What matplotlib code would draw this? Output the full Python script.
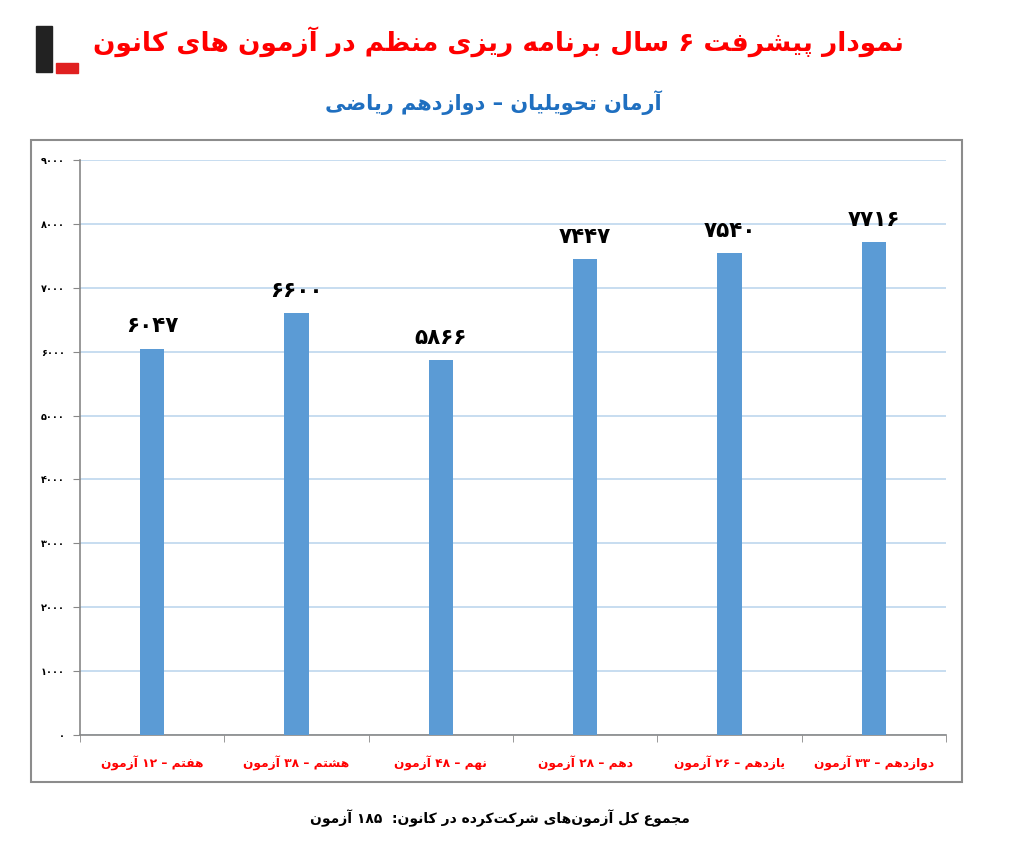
import matplotlib
matplotlib.use("Agg")
import matplotlib.pyplot as plt
from matplotlib.patches import Rectangle

# data
categories = ["هفتم – ۱۲ آزمون", "هشتم – ۳۸ آزمون", "نهم – ۴۸ آزمون",
              "دهم – ۲۸ آزمون", "یازدهم – ۲۶ آزمون", "دوازدهم – ۳۳ آزمون"]
scores = [6047, 6600, 5866, 7447, 7540, 7716]
yticks = [0, 1000, 2000, 3000, 4000, 5000, 6000, 7000, 8000, 9000]

title = "نمودار پیشرفت ۶ سال برنامه ریزی منظم در آزمون های کانون"
subtitle = "آرمان تحویلیان – دوازدهم ریاضی"
footer = "مجموع کل آزمون\u200cهای شرکت\u200cکرده در کانون:  ۱۸۵ آزمون"

# poor man's arabic shaping (matplotlib does no shaping / bidi)
# letter: (isolated, final, initial, medial)
FORMS = {
    "ا": (0xFE8D, 0xFE8E, None, None), "آ": (0xFE81, 0xFE82, None, None),
    "ب": (0xFE8F, 0xFE90, 0xFE91, 0xFE92), "پ": (0xFB56, 0xFB57, 0xFB58, 0xFB59),
    "ت": (0xFE95, 0xFE96, 0xFE97, 0xFE98), "ج": (0xFE9D, 0xFE9E, 0xFE9F, 0xFEA0),
    "ح": (0xFEA1, 0xFEA2, 0xFEA3, 0xFEA4), "د": (0xFEA9, 0xFEAA, None, None),
    "ر": (0xFEAD, 0xFEAE, None, None), "ز": (0xFEAF, 0xFEB0, None, None),
    "س": (0xFEB1, 0xFEB2, 0xFEB3, 0xFEB4), "ش": (0xFEB5, 0xFEB6, 0xFEB7, 0xFEB8),
    "ض": (0xFEBD, 0xFEBE, 0xFEBF, 0xFEC0), "ظ": (0xFEC5, 0xFEC6, 0xFEC7, 0xFEC8),
    "ع": (0xFEC9, 0xFECA, 0xFECB, 0xFECC), "ف": (0xFED1, 0xFED2, 0xFED3, 0xFED4),
    "ک": (0xFB8E, 0xFB8F, 0xFB90, 0xFB91), "گ": (0xFB92, 0xFB93, 0xFB94, 0xFB95),
    "ل": (0xFEDD, 0xFEDE, 0xFEDF, 0xFEE0), "م": (0xFEE1, 0xFEE2, 0xFEE3, 0xFEE4),
    "ن": (0xFEE5, 0xFEE6, 0xFEE7, 0xFEE8), "و": (0xFEED, 0xFEEE, None, None),
    "ه": (0xFEE9, 0xFEEA, 0xFEEB, 0xFEEC), "ی": (0xFBFC, 0xFBFD, 0xFBFE, 0xFBFF),
}
DIGITS = "0123456789۰۱۲۳۴۵۶۷۸۹"


def fa(s):
    out = []
    for i, c in enumerate(s):
        if c not in FORMS:
            if c != "\u200c":
                out.append(c)
            continue
        iso, fin, ini, med = FORMS[c]
        p = s[i - 1] if i > 0 else ""
        n = s[i + 1] if i + 1 < len(s) else ""
        jp = p in FORMS and FORMS[p][2] is not None
        jn = n in FORMS and ini is not None
        if jp and jn:
            g = med
        elif jp:
            g = fin
        elif jn:
            g = ini
        else:
            g = iso
        out.append(chr(g))
    # visual order: reverse, but keep number runs left to right
    runs = []
    for c in out:
        if runs and c in DIGITS and runs[-1][0] in DIGITS:
            runs[-1] += c
        else:
            runs.append(c)
    return "".join(reversed(runs))


def fa_num(v):
    return str(v).translate(str.maketrans("0123456789", "۰۱۲۳۴۵۶۷۸۹"))


plt.rcParams["font.family"] = ["DejaVu Sans"]

fig = plt.figure(figsize=(10.14, 8.56), dpi=100)
ax = fig.add_axes([80 / 1014, 1 - 735 / 856, 866 / 1014, 575 / 856])

x = list(range(len(scores)))
ax.bar(x, scores, width=0.17, color="#5b9bd5", zorder=3)
for xi, v in zip(x, scores):
    ax.annotate(fa_num(v), (xi, v), xytext=(0, 9), textcoords="offset points",
                ha="center", va="bottom", fontsize=15.5, fontweight="bold", color="black")

ax.set_xlim(-0.5, len(scores) - 0.5)
ax.set_ylim(0, 9000)
ax.set_yticks(yticks)
ax.set_yticklabels([fa_num(t) for t in yticks], fontsize=7, fontweight="bold")
ax.set_xticks(x)
ax.set_xticklabels([fa(c) for c in categories], fontsize=8.8, fontweight="bold", color="red")
ax.set_xticks([i - 0.5 for i in range(len(scores) + 1)], minor=True)
ax.tick_params(axis="x", which="major", length=0, pad=15)
ax.tick_params(axis="x", which="minor", length=5, color="#888888", direction="out")
ax.tick_params(axis="y", length=5, color="#888888", pad=6)
ax.grid(axis="y", color="#bdd7ee", linewidth=1.2, zorder=0)
for side in ["top", "right"]:
    ax.spines[side].set_visible(False)
for side in ["left", "bottom"]:
    ax.spines[side].set_color("#888888")
    ax.spines[side].set_linewidth(1.2)

# outer chart frame
fig.patches.append(Rectangle((31 / 1014, 1 - 782 / 856), 931 / 1014, 642 / 856,
                             transform=fig.transFigure, fill=False,
                             edgecolor="#8c8c8c", linewidth=1.5))

# logo placeholder
fig.patches.append(Rectangle((36 / 1014, 1 - 72 / 856), 16 / 1014, 46 / 856,
                             transform=fig.transFigure, color="#222222"))
fig.patches.append(Rectangle((56 / 1014, 1 - 73 / 856), 22 / 1014, 10 / 856,
                             transform=fig.transFigure, color="#e02020"))

fig.text(498 / 1014, 1 - 42 / 856, fa(title), ha="center", va="center",
         fontsize=19, fontweight="bold", color="#ff0000")
fig.text(493 / 1014, 1 - 103 / 856, fa(subtitle), ha="center", va="center",
         fontsize=15, fontweight="bold", color="#1f6fc0")
fig.text(500 / 1014, 1 - 818 / 856, fa(footer), ha="center", va="center",
         fontsize=10, fontweight="bold", color="black")

fig.savefig("out.png", dpi=100)
